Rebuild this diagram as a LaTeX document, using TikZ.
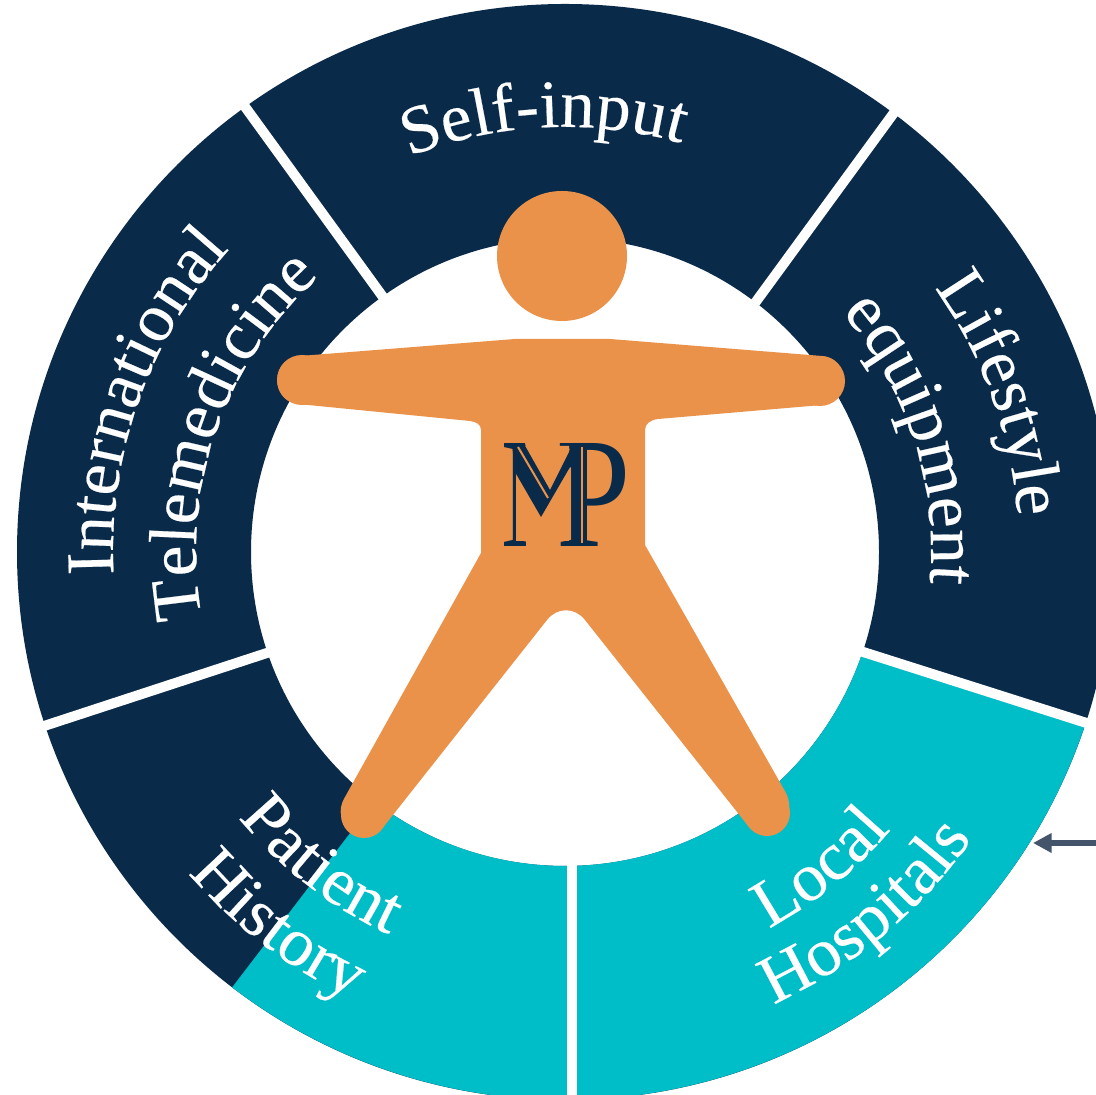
\documentclass[tikz,border=0pt]{standalone}
\usepackage{fontspec}
\setmainfont{Liberation Serif}[FakeStretch=1.02,FakeBold=0.3]
\newfontfamily\logofont{Liberation Serif}
\usetikzlibrary{decorations.text,arrows.meta,calc}
\definecolor{navyc}{HTML}{0A2A4A}
\definecolor{tealc}{HTML}{00BEC8}
\definecolor{orangec}{HTML}{EB924A}
\definecolor{arrowc}{HTML}{44546A}
\newcommand{\ringfont}{\fontsize{51}{51}\selectfont}
\tikzset{
  x=0.75pt,y=0.75pt,
  screen/.style={shift={(0,1095)},yscale=-1},
  spoke/.style={draw=white,line width=7.5pt},
  ringtext/.style={decorate,decoration={text along path,text align=center,text color=white,text={|\ringfont|#1}}},
  logotext/.style={text=navyc,inner sep=0pt,anchor=base west,font=\logofont\fontsize{118}{118}\selectfont},
  inline/.style={draw=orangec,line width=1.5pt},
}
\begin{document}
\begin{tikzpicture}
\clip (0,0) rectangle (1096,1095);
\fill[white] (0,0) rectangle (1096,1095);
\begin{scope}[screen]
  \coordinate (c) at (565,552);
  \fill[navyc,even odd rule] (c) circle[radius=548] (c) circle[radius=314];
  \fill[tealc] (c) ++(18:548) arc[start angle=18,end angle=127.4,radius=548]
     -- ($(c)+(127.4:314)$) arc[start angle=127.4,end angle=18,radius=314] -- cycle;
  % spokes
  \coordinate (s1a) at (383,297); \coordinate (s1b) at (243,104);
  \coordinate (s2a) at (755,303); \coordinate (s2b) at (896,110);
  \coordinate (s3a) at (860,651); \coordinate (s3b) at (1096,726);
  \coordinate (s4a) at (270,652); \coordinate (s4b) at (38,728);
  \coordinate (s5a) at (572,860); \coordinate (s5b) at (572,1100);
  \foreach \n in {1,...,5} \draw[spoke] (s\n a) -- (s\n b);
  % figure
  \fill[orangec] (562,256) circle[radius=65];
  \fill[orangec] (300,356) -- (515,339) -- (610,339) -- (822,356)
    .. controls (851,358) and (851,403) .. (822,405)
    -- (658,419) .. controls (650,420) and (645,424) .. (645,430)
    -- (645,545) -- (786,793)
    .. controls (800,822) and (765,850) .. (745,822)
    -- (585,620) .. controls (575,607) and (557,607) .. (547,620)
    -- (385,825) .. controls (365,848) and (328,825) .. (345,797)
    -- (481,553) -- (481,430) .. controls (481,424) and (476,422) .. (470,421)
    -- (298,404) .. controls (270,401) and (270,358) .. (300,356) -- cycle;
  \fill[orangec] (767,813) circle[radius=23] (364,815) circle[radius=23]
     (820,381) circle[radius=25] (302,380) circle[radius=25];
  % arrow
  \coordinate (arrowstart) at (1100,843);
  \coordinate (arrowend) at (1033,843);
  \draw[arrowc,line width=4pt,-{Triangle[length=14pt,width=14pt]}] (arrowstart) -- (arrowend);
  % logo
  \node[logotext] (logom) at (501,547) {\scalebox{.667}[1]{M}};
  \node[logotext] (logop) at (556,547) {\scalebox{.85}[1]{P}};
  \fill[orangec] (516,446) -- (569,446) -- (569,541) -- (553,541) -- (553,549) -- (526,549) -- (526,541) -- (516,541) -- cycle;
  \fill[navyc] (512,444) -- (524,444) -- (550,490) -- (573,444) -- (575,470) -- (570,467)
     -- (541,517) -- (515,472) -- cycle;
  \fill[navyc] (583,446) rectangle (587,545);
  \draw[inline] (518,447) -- (548,498);
  \draw[inline] (582,447) -- (582,543);
\end{scope}
\coordinate (t) at (565,543);
\path[ringtext={Self-input}] (t) ++(162.3:425) arc[start angle=162.3,end angle=23.3,radius=425];
\path[ringtext={International}] (t) ++(230.4:452) arc[start angle=230.4,end angle=90.4,radius=452];
\path[ringtext={Telemedicine}] (t) ++(231:369) arc[start angle=231,end angle=91,radius=369];
\path[ringtext={Lifestyle}] (t) ++(90:454) arc[start angle=90,end angle=-50,radius=454];
\path[ringtext={equipment}] (t) ++(88:366) arc[start angle=88,end angle=-52,radius=366];
\path[ringtext={Local}] (t) ++(-121:428) arc[start angle=-121,end angle=19,radius=428];
\path[ringtext={Hospitals}] (t) ++(-120.2:498) arc[start angle=-120.2,end angle=19.8,radius=498];
\path[ringtext={Patient}] (t) ++(-197.8:421) arc[start angle=-197.8,end angle=-57.8,radius=421];
\path[ringtext={History}] (t) ++(-197.5:495) arc[start angle=-197.5,end angle=-57.5,radius=495];
\end{tikzpicture}
\end{document}
